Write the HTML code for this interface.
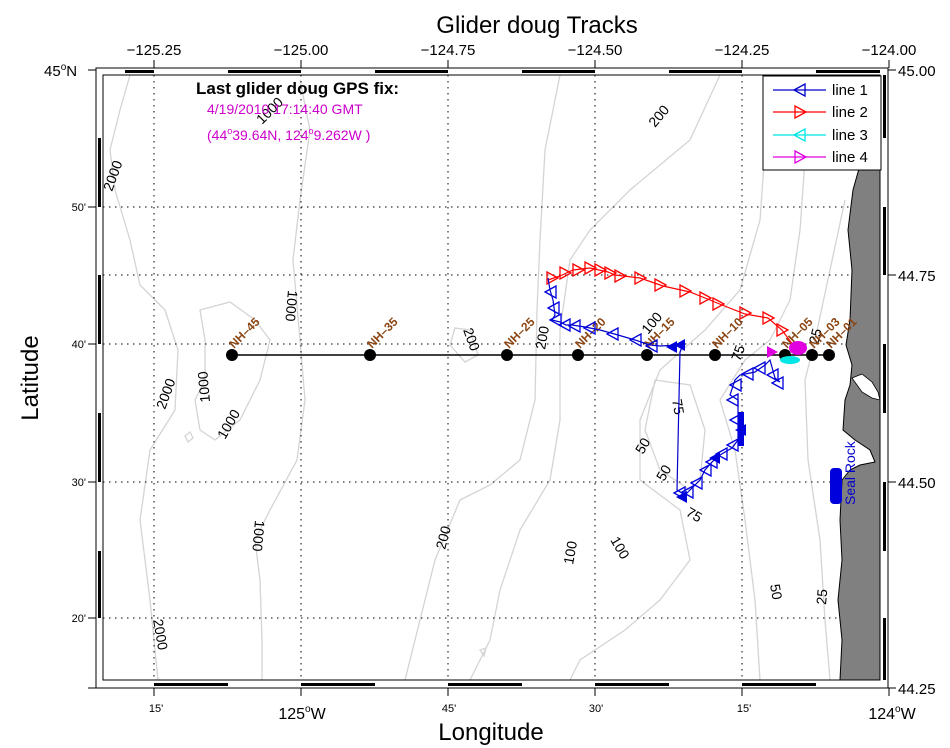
<!DOCTYPE html>
<html><head><meta charset="utf-8"><style>body{margin:0;background:#fff}svg{display:block}text{font-family:"Liberation Sans",sans-serif}</style></head><body>
<svg width="950" height="748" viewBox="0 0 950 748" xmlns="http://www.w3.org/2000/svg">
<rect width="950" height="748" fill="#fff"/>
<g fill="none" stroke="#d4d4d4" stroke-width="1.3">
<path d="M130 75 L120 110 L110 150 L115 190 L130 240 L140 285 L165 310 L178 350 L175 410 L150 450 L140 520 L150 600 L158 680"/>
<path d="M300 80 L310 130 L300 200 L293 260 L300 340 L305 400 L297 460 L270 510 L255 540 L260 580 L262 640 L262 680"/>
<path d="M200 310 L230 302 L255 320 L270 340 L260 380 L240 420 L215 440 L200 430 L195 400 L205 380 L205 340 Z"/>
<path d="M185 436 L190 432 L193 438 L188 442 Z"/>
<path d="M455 328 L470 330 L478 355 L465 362 L450 345 Z"/>
<path d="M560 75 L545 150 L540 240 L537 310 L535 400 L520 460 L490 485 L460 500 L435 560 L420 620 L405 680"/>
<path d="M720 75 L690 140 L630 190 L590 230 L570 260 L560 330 L560 420 L550 480 L520 530 L500 590 L490 640 L470 680"/>
<path d="M770 75 L765 150 L760 220 L740 290 L705 330 L660 370 L640 420 L640 480 L680 510 L690 560 L660 600 L625 630 L580 660 L570 680"/>
<path d="M655 380 L690 385 L705 430 L700 480 L690 490 L660 470 L645 430 Z"/>
<path d="M805 160 L800 230 L790 300 L770 340 L745 360 L720 400 L735 450 L745 520 L755 600 L760 680"/>
<path d="M845 200 L830 270 L815 340 L805 380 L808 460 L820 540 L825 620 L830 680"/>
<path d="M480 650 L486 648 L484 656 Z"/>
</g>
<g stroke="#000" stroke-width="1" stroke-dasharray="1.5,4.5">
<line x1="154" y1="75" x2="154" y2="680"/><line x1="301" y1="75" x2="301" y2="680"/><line x1="448" y1="75" x2="448" y2="680"/><line x1="595" y1="75" x2="595" y2="680"/><line x1="742" y1="75" x2="742" y2="680"/>
<line x1="103" y1="207" x2="880" y2="207"/><line x1="103" y1="275" x2="880" y2="275"/><line x1="103" y1="344" x2="880" y2="344"/><line x1="103" y1="482" x2="880" y2="482"/><line x1="103" y1="618" x2="880" y2="618"/>
</g>
<path d="M880 75 L880 680 L840 680 L842 640 L838 600 L842 560 L840 520 L842 480 L850 470 L860 465 L875 462 L870 450 L855 440 L843 430 L845 400 L850 385 L852 365 L846 345 L850 320 L852 270 L848 230 L853 190 L860 165 L862 130 L875 90 Z" fill="#808080" stroke="#000" stroke-width="1"/>
<path d="M852 378 L862 374 L872 382 L878 392 L880 400 L872 398 L862 392 Z" fill="#fff" stroke="#000" stroke-width="0.8"/>
<g font-size="14" fill="#000">
<text transform="translate(112,192) rotate(-70)">2000</text>
<text transform="translate(165,410) rotate(-70)">2000</text>
<text transform="translate(210,402) rotate(-95)" >1000</text>
<text transform="translate(225,440) rotate(-60)">1000</text>
<text transform="translate(288,290) rotate(95)">1000</text>
<text transform="translate(255,520) rotate(95)">1000</text>
<text transform="translate(153,620) rotate(80)">2000</text>
<text transform="translate(262,125) rotate(-45)">1000</text>
<text transform="translate(463,330) rotate(70)">200</text>
<text transform="translate(545,350) rotate(-80)">200</text>
<text transform="translate(445,550) rotate(-75)">200</text>
<text transform="translate(573,565) rotate(-80)">100</text>
<text transform="translate(610,540) rotate(60)">100</text>
<text transform="translate(655,128) rotate(-50)">200</text>
<text transform="translate(648,335) rotate(-50)">100</text>
<text transform="translate(672,400) rotate(80)">75</text>
<text transform="translate(740,362) rotate(-70)">75</text>
<text transform="translate(685,515) rotate(30)">75</text>
<text transform="translate(643,455) rotate(-60)">50</text>
<text transform="translate(664,482) rotate(-60)">50</text>
<text transform="translate(770,585) rotate(80)">50</text>
<text transform="translate(826,605) rotate(-85)">25</text>
<text transform="translate(818,345) rotate(-75)">25</text>
</g>
<line x1="232" y1="355" x2="829" y2="355" stroke="#000" stroke-width="1.5"/>
<g fill="#000">
<circle cx="232" cy="355" r="6"/><circle cx="370" cy="355" r="6"/><circle cx="507" cy="355" r="6"/><circle cx="578" cy="355" r="6"/><circle cx="647" cy="355" r="6"/><circle cx="715" cy="355" r="6"/><circle cx="785" cy="355" r="6"/><circle cx="812" cy="355" r="6"/><circle cx="829" cy="355" r="6"/>
</g>
<g font-size="12" font-weight="bold" fill="#8B4513">
<text transform="translate(234,349) rotate(-45)">NH–45</text>
<text transform="translate(372,349) rotate(-45)">NH–35</text>
<text transform="translate(509,349) rotate(-45)">NH–25</text>
<text transform="translate(580,349) rotate(-45)">NH–20</text>
<text transform="translate(649,349) rotate(-45)">NH–15</text>
<text transform="translate(717,349) rotate(-45)">NH–10</text>
<text transform="translate(787,349) rotate(-45)">NH–05</text>
<text transform="translate(814,349) rotate(-45)">NH–03</text>
<text transform="translate(831,349) rotate(-45)">NH–01</text>
</g>
<defs>
<path id="tl" d="M-6 0 L5 -6 L5 6 Z"/>
<path id="tr" d="M6 0 L-5 -6 L-5 6 Z"/>
</defs>
<polyline fill="none" stroke="#ff0000" stroke-width="1.2" points="548,280 560,276 573,270 590,268 608,272 615,275 640,278 663,286 690,292 710,300 722,305 745,314 768,318 782,330 793,345"/>
<g fill="none" stroke="#f00" stroke-width="1.3">
<use href="#tr" x="552" y="278"/><use href="#tr" x="565" y="273"/><use href="#tr" x="578" y="270"/><use href="#tr" x="590" y="268"/><use href="#tr" x="600" y="270"/><use href="#tr" x="610" y="273"/><use href="#tr" x="620" y="276"/><use href="#tr" x="640" y="278"/><use href="#tr" x="660" y="285"/><use href="#tr" x="685" y="291"/><use href="#tr" x="705" y="298"/><use href="#tr" x="718" y="304"/><use href="#tr" x="745" y="313"/><use href="#tr" x="768" y="318"/><use href="#tr" x="782" y="330"/>
</g>
<polyline fill="none" stroke="#0000cc" stroke-width="1.2" points="548,278 550,290 553,300 555,315 552,320 560,322 566,325 572,325 585,327 600,330 618,335 635,340 650,345 660,346 680,345 682,347 680,352 677,490 685,495 690,490 695,485 700,480 705,470 712,462 720,455 732,448 738,440 738,400 730,395 735,380 740,375 755,372 765,365 770,360 775,378 780,382"/>
<g fill="none" stroke="#0000dd" stroke-width="1.3">
<use href="#tl" x="551" y="292"/><use href="#tl" x="554" y="308"/><use href="#tl" x="556" y="320"/><use href="#tl" x="565" y="325"/><use href="#tl" x="575" y="326"/><use href="#tl" x="590" y="328"/><use href="#tl" x="613" y="334"/><use href="#tl" x="636" y="340"/><use href="#tl" x="652" y="346"/><use href="#tl" x="680" y="493"/><use href="#tl" x="688" y="492"/><use href="#tl" x="697" y="483"/><use href="#tl" x="706" y="470"/><use href="#tl" x="712" y="462"/><use href="#tl" x="722" y="454"/><use href="#tl" x="733" y="445"/><use href="#tl" x="736" y="420"/><use href="#tl" x="733" y="400"/><use href="#tl" x="736" y="385"/><use href="#tl" x="748" y="374"/><use href="#tl" x="760" y="368"/><use href="#tl" x="773" y="375"/><use href="#tl" x="778" y="383"/>
</g>
<g fill="#0000dd">
<use href="#tl" x="672" y="347"/><use href="#tl" x="680" y="345"/><use href="#tl" x="682" y="497"/><use href="#tl" x="715" y="458"/><use href="#tl" x="741" y="430"/>
<rect x="738" y="412" width="6" height="34"/>
<rect x="830" y="468" width="12" height="36" rx="4"/>
</g>
<g fill="#00e5e5"><ellipse cx="790" cy="360" rx="10" ry="4"/></g>
<g fill="#e000e0"><use href="#tr" x="772" y="352"/><ellipse cx="798" cy="348" rx="9" ry="7"/></g>
<text transform="translate(855,505) rotate(-90)" font-size="14" fill="#0000cc">Seal Rock</text>
<g fill="none" stroke="#000">
<rect x="103" y="75" width="777" height="605" stroke-width="1"/>
<rect x="96" y="68" width="792" height="620" stroke-width="1"/>
</g>
<g stroke="#000" stroke-width="3">
<line x1="125" y1="71.5" x2="154" y2="71.5"/><line x1="228" y1="71.5" x2="301" y2="71.5"/><line x1="375" y1="71.5" x2="448" y2="71.5"/><line x1="522" y1="71.5" x2="595" y2="71.5"/><line x1="669" y1="71.5" x2="742" y2="71.5"/><line x1="816" y1="71.5" x2="880" y2="71.5"/>
<line x1="154" y1="684.5" x2="228" y2="684.5"/><line x1="301" y1="684.5" x2="375" y2="684.5"/><line x1="448" y1="684.5" x2="522" y2="684.5"/><line x1="595" y1="684.5" x2="669" y2="684.5"/><line x1="742" y1="684.5" x2="816" y2="684.5"/>
<line x1="99.5" y1="138" x2="99.5" y2="207"/><line x1="99.5" y1="275" x2="99.5" y2="344"/><line x1="99.5" y1="413" x2="99.5" y2="482"/><line x1="99.5" y1="551" x2="99.5" y2="618"/>
<line x1="884.5" y1="75" x2="884.5" y2="138"/><line x1="884.5" y1="207" x2="884.5" y2="275"/><line x1="884.5" y1="344" x2="884.5" y2="413"/><line x1="884.5" y1="482" x2="884.5" y2="551"/><line x1="884.5" y1="618" x2="884.5" y2="680"/>
</g>
<g stroke="#000" stroke-width="1">
<line x1="154" y1="60" x2="154" y2="68"/><line x1="301" y1="60" x2="301" y2="68"/><line x1="448" y1="60" x2="448" y2="68"/><line x1="595" y1="60" x2="595" y2="68"/><line x1="742" y1="60" x2="742" y2="68"/><line x1="889" y1="60" x2="889" y2="68"/>
<line x1="154" y1="688" x2="154" y2="696"/><line x1="301" y1="688" x2="301" y2="696"/><line x1="448" y1="688" x2="448" y2="696"/><line x1="595" y1="688" x2="595" y2="696"/><line x1="742" y1="688" x2="742" y2="696"/><line x1="889" y1="688" x2="889" y2="696"/>
<line x1="88" y1="70" x2="96" y2="70"/><line x1="88" y1="207" x2="96" y2="207"/><line x1="88" y1="344" x2="96" y2="344"/><line x1="88" y1="482" x2="96" y2="482"/><line x1="88" y1="618" x2="96" y2="618"/><line x1="88" y1="688" x2="96" y2="688"/>
<line x1="888" y1="70" x2="896" y2="70"/><line x1="888" y1="275" x2="896" y2="275"/><line x1="888" y1="482" x2="896" y2="482"/><line x1="888" y1="688" x2="896" y2="688"/>
</g>
<text x="537" y="33" font-size="24" text-anchor="middle">Glider doug Tracks</text>
<g font-size="15" text-anchor="middle">
<text x="154" y="55">−125.25</text><text x="301" y="55">−125.00</text><text x="448" y="55">−124.75</text><text x="595" y="55">−124.50</text><text x="742" y="55">−124.25</text><text x="889" y="55">−124.00</text>
</g>
<g font-size="15">
<text x="898" y="76">45.00</text><text x="898" y="281">44.75</text><text x="898" y="488">44.50</text><text x="898" y="694">44.25</text>
<text x="44" y="76">45<tspan font-size="10" dy="-6">o</tspan><tspan dy="6">N</tspan></text>
</g>
<g font-size="11" text-anchor="end">
<text x="86" y="211">50'</text><text x="86" y="348">40'</text><text x="86" y="486">30'</text><text x="86" y="622">20'</text>
</g>
<g font-size="11" text-anchor="middle">
<text x="156" y="712">15'</text><text x="449" y="712">45'</text><text x="596" y="712">30'</text><text x="744" y="712">15'</text>
</g>
<g font-size="16" text-anchor="middle">
<text x="302" y="719">125<tspan font-size="10" dy="-7">o</tspan><tspan dy="7">W</tspan></text>
<text x="892" y="719">124<tspan font-size="10" dy="-7">o</tspan><tspan dy="7">W</tspan></text>
</g>
<text x="491" y="740" font-size="24" text-anchor="middle">Longitude</text>
<text transform="translate(38,378) rotate(-90)" font-size="24" text-anchor="middle">Latitude</text>
<text x="196" y="94" font-size="17" font-weight="bold">Last glider doug GPS fix:</text>
<text x="207" y="114" font-size="14" fill="#cc00cc">4/19/2010 17:14:40 GMT</text>
<text x="207" y="140" font-size="14" fill="#cc00cc">(44<tspan font-size="9" dy="-6">o</tspan><tspan dy="6">39.64N, 124</tspan><tspan font-size="9" dy="-6">o</tspan><tspan dy="6">9.262W )</tspan></text>
<rect x="763" y="76" width="118" height="94" fill="#fff" stroke="#000"/>
<g stroke-width="1.3" fill="none">
<line x1="773" y1="90" x2="826" y2="90" stroke="#0000cc"/><use href="#tl" x="800" y="90" stroke="#0000cc"/>
<line x1="773" y1="112" x2="826" y2="112" stroke="#ff0000"/><use href="#tr" x="800" y="112" stroke="#ff0000"/>
<line x1="773" y1="135" x2="826" y2="135" stroke="#00e5e5"/><use href="#tl" x="800" y="135" stroke="#00e5e5"/>
<line x1="773" y1="157" x2="826" y2="157" stroke="#e000e0"/><use href="#tr" x="800" y="157" stroke="#e000e0"/>
</g>
<g font-size="15"><text x="832" y="95">line 1</text><text x="832" y="117">line 2</text><text x="832" y="140">line 3</text><text x="832" y="162">line 4</text></g>
</svg>
</body></html>
